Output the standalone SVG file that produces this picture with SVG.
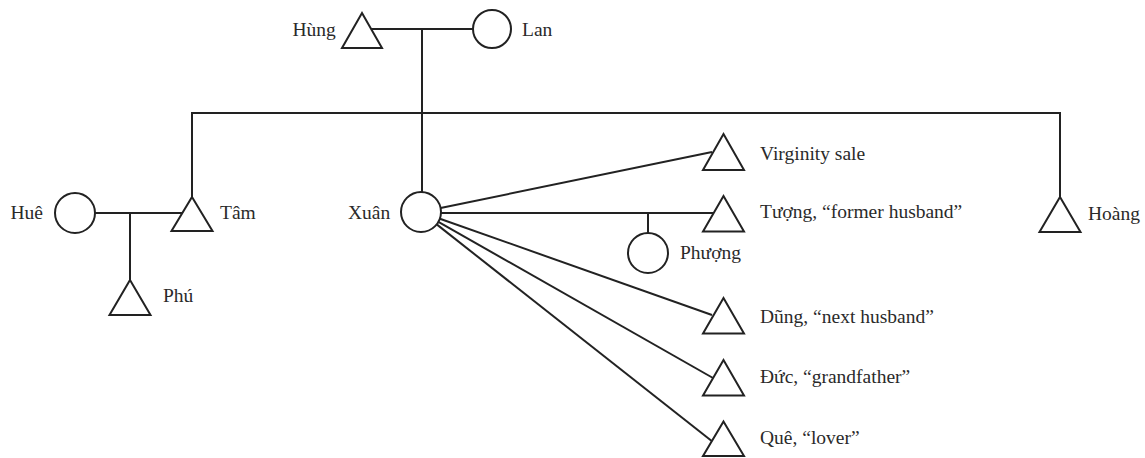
<svg xmlns="http://www.w3.org/2000/svg" width="1145" height="458" viewBox="0 0 1145 458">
<style>
.s{fill:#fff;stroke:#222;stroke-width:2;stroke-linejoin:miter}
.c{fill:none;stroke:#222;stroke-width:2}
text{font-family:"Liberation Serif","Times New Roman",serif;font-size:19.5px;fill:#2a2a2a}
</style>
<rect width="1145" height="458" fill="#fff"/>
<g id="connectors" class="c">
<polyline points="371,29 473,29"/>
<polyline points="422,29 422,192"/>
<polyline points="192,197 192,113 1060,113 1060,197"/>
<polyline points="95,213 182,213"/>
<polyline points="130,213 130,280"/>
<polyline points="440.6,208 712,152"/>
<polyline points="441,213 713,213"/>
<polyline points="648,213 648,233"/>
<polyline points="439.9,218.7 712,315"/>
<polyline points="438.4,221.9 713,378"/>
<polyline points="436.7,224.4 713,442"/>
</g>
<g id="hung"><polygon class="s" points="362,13 382,48 342,48"/><text x="292.5" y="36">Hùng</text></g>
<g id="lan"><circle class="s" cx="492" cy="29" r="19"/><text x="522" y="36">Lan</text></g>
<g id="tam"><polygon class="s" points="192,197 212.5,231 171.5,231"/><text x="220" y="219">Tâm</text></g>
<g id="hue"><circle class="s" cx="75" cy="213" r="20"/><text x="10.5" y="219">Huê</text></g>
<g id="phu"><polygon class="s" points="130,280 150.5,315 109.5,315"/><text x="163" y="302">Phú</text></g>
<g id="xuan"><circle class="s" cx="421" cy="212" r="20"/><text x="348" y="219">Xuân</text></g>
<g id="hoang"><polygon class="s" points="1060,197 1080.5,232 1039.5,232"/><text x="1088" y="220">Hoàng</text></g>
<g id="virginity"><polygon class="s" points="723.5,134 744,170 703,170"/><text x="760" y="160">Virginity sale</text></g>
<g id="tuong"><polygon class="s" points="723.5,196 744,231.5 703,231.5"/><text x="760" y="218">Tượng, “former husband”</text></g>
<g id="phuong"><circle class="s" cx="648" cy="253" r="20"/><text x="680" y="259">Phượng</text></g>
<g id="dung"><polygon class="s" points="723.5,298 744,333.5 703,333.5"/><text x="760" y="323">Dũng, “next husband”</text></g>
<g id="duc"><polygon class="s" points="723.5,360 744,395.5 703,395.5"/><text x="760" y="383">Đức, “grandfather”</text></g>
<g id="que"><polygon class="s" points="723.5,421.5 744,456 703,456"/><text x="760" y="444">Quê, “lover”</text></g>
</svg>
